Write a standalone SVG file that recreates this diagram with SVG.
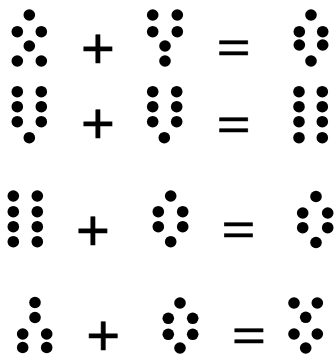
<svg xmlns="http://www.w3.org/2000/svg" width="335" height="354" viewBox="0 0 335 354">
<style>
.d{fill:#000}
.op{font-family:"Liberation Sans",Arial,sans-serif;font-size:58px;fill:#000;stroke:#000;stroke-width:0.6;text-anchor:middle}
</style>
<rect width="335" height="354" fill="#fff"/>
<g id="row1">
<g id="r1a"><circle class="d" cx="29.3" cy="15" r="5.8"/><circle class="d" cx="17.3" cy="31.7" r="5.8"/><circle class="d" cx="41.3" cy="31.7" r="5.8"/><circle class="d" cx="29.3" cy="46" r="5.8"/><circle class="d" cx="17.3" cy="61" r="5.8"/><circle class="d" cx="41.3" cy="61" r="5.8"/></g>
<text class="op" x="98" y="67.5">+</text>
<g id="r1b"><circle class="d" cx="152.7" cy="15" r="5.8"/><circle class="d" cx="177.3" cy="15" r="5.8"/><circle class="d" cx="152.7" cy="31.7" r="5.8"/><circle class="d" cx="177.3" cy="31.7" r="5.8"/><circle class="d" cx="165" cy="46" r="5.8"/><circle class="d" cx="165" cy="61" r="5.8"/></g>
<text class="op" transform="translate(233.7,47) scale(1,0.75)" x="0" y="20">=</text>
<g id="r1c"><circle class="d" cx="311" cy="15" r="5.8"/><circle class="d" cx="299.3" cy="31.7" r="5.8"/><circle class="d" cx="322.7" cy="31.7" r="5.8"/><circle class="d" cx="299.3" cy="45" r="5.8"/><circle class="d" cx="322.7" cy="45" r="5.8"/><circle class="d" cx="311" cy="61" r="5.8"/></g>
</g>
<g id="row2">
<g id="r2a"><circle class="d" cx="17.3" cy="91.7" r="5.8"/><circle class="d" cx="41.3" cy="91.7" r="5.8"/><circle class="d" cx="17.3" cy="106.7" r="5.8"/><circle class="d" cx="41.3" cy="106.7" r="5.8"/><circle class="d" cx="17.3" cy="121.7" r="5.8"/><circle class="d" cx="41.3" cy="121.7" r="5.8"/><circle class="d" cx="29.3" cy="137.7" r="5.8"/></g>
<text class="op" x="98" y="142.5">+</text>
<g id="r2b"><circle class="d" cx="152.7" cy="91.7" r="5.8"/><circle class="d" cx="176.7" cy="91.7" r="5.8"/><circle class="d" cx="152.7" cy="106.7" r="5.8"/><circle class="d" cx="176.7" cy="106.7" r="5.8"/><circle class="d" cx="152.7" cy="121.7" r="5.8"/><circle class="d" cx="176.7" cy="121.7" r="5.8"/><circle class="d" cx="164.3" cy="137.7" r="5.8"/></g>
<text class="op" transform="translate(233.7,123.7) scale(1,0.75)" x="0" y="20">=</text>
<g id="r2c"><circle class="d" cx="299" cy="91.7" r="5.8"/><circle class="d" cx="322.3" cy="91.7" r="5.8"/><circle class="d" cx="299" cy="106.7" r="5.8"/><circle class="d" cx="322.3" cy="106.7" r="5.8"/><circle class="d" cx="299" cy="121.7" r="5.8"/><circle class="d" cx="322.3" cy="121.7" r="5.8"/><circle class="d" cx="299" cy="137.7" r="5.8"/><circle class="d" cx="322.3" cy="137.7" r="5.8"/></g>
</g>
<g id="row3">
<g id="r3a"><circle class="d" cx="13.3" cy="196" r="5.8"/><circle class="d" cx="37.3" cy="196" r="5.8"/><circle class="d" cx="13.3" cy="211.7" r="5.8"/><circle class="d" cx="37.3" cy="211.7" r="5.8"/><circle class="d" cx="13.3" cy="226.7" r="5.8"/><circle class="d" cx="37.3" cy="226.7" r="5.8"/><circle class="d" cx="13.3" cy="241.7" r="5.8"/><circle class="d" cx="37.3" cy="241.7" r="5.8"/></g>
<text class="op" x="93" y="249.5">+</text>
<g id="r3b"><circle class="d" cx="170.7" cy="196" r="5.8"/><circle class="d" cx="158.3" cy="211.7" r="5.8"/><circle class="d" cx="182.7" cy="211.7" r="5.8"/><circle class="d" cx="158.3" cy="226.7" r="5.8"/><circle class="d" cx="182.7" cy="226.7" r="5.8"/><circle class="d" cx="170.7" cy="241.7" r="5.8"/></g>
<text class="op" transform="translate(238.5,229) scale(1,0.75)" x="0" y="20">=</text>
<g id="r3c"><circle class="d" cx="316" cy="196.5" r="5.8"/><circle class="d" cx="302.7" cy="213" r="5.8"/><circle class="d" cx="327.7" cy="213" r="5.8"/><circle class="d" cx="302.7" cy="227.7" r="5.8"/><circle class="d" cx="327.7" cy="227.7" r="5.8"/><circle class="d" cx="316" cy="242.5" r="5.8"/></g>
</g>
<g id="row4">
<g id="r4a"><circle class="d" cx="35" cy="302.5" r="5.8"/><circle class="d" cx="35" cy="317.5" r="5.8"/><circle class="d" cx="22.7" cy="334" r="5.8"/><circle class="d" cx="46.7" cy="334" r="5.8"/><circle class="d" cx="22.7" cy="347.5" r="5.8"/><circle class="d" cx="46.7" cy="347.5" r="5.8"/></g>
<text class="op" x="103.3" y="354.5">+</text>
<g id="r4b"><circle class="d" cx="180" cy="303" r="5.8"/><circle class="d" cx="168.3" cy="318.3" r="5.8"/><circle class="d" cx="192.7" cy="318.3" r="5.8"/><circle class="d" cx="168.3" cy="334.3" r="5.8"/><circle class="d" cx="192.7" cy="334.3" r="5.8"/><circle class="d" cx="180" cy="348" r="5.8"/></g>
<text class="op" transform="translate(249,335) scale(1,0.75)" x="0" y="20">=</text>
<g id="r4c"><circle class="d" cx="294" cy="303" r="5.8"/><circle class="d" cx="317.3" cy="303" r="5.8"/><circle class="d" cx="305.7" cy="317.3" r="5.8"/><circle class="d" cx="294" cy="334" r="5.8"/><circle class="d" cx="317.3" cy="334" r="5.8"/><circle class="d" cx="305.7" cy="348" r="5.8"/></g>
</g>
</svg>
